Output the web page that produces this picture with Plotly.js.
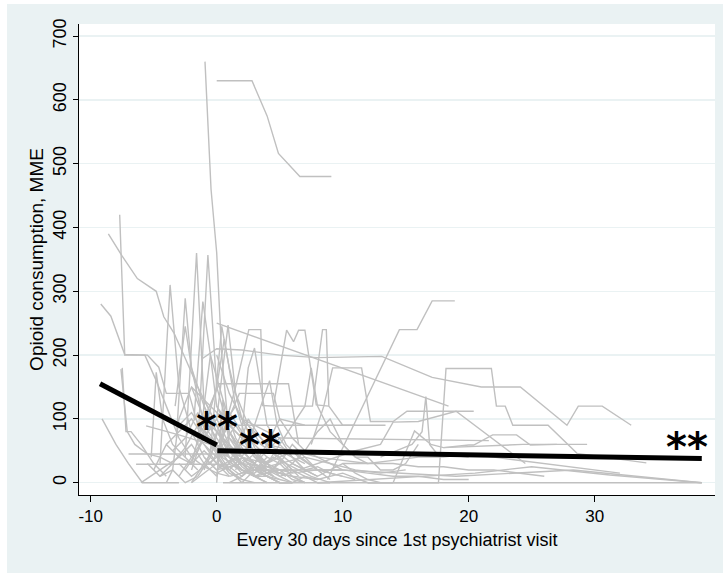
<!DOCTYPE html>
<html>
<head>
<meta charset="utf-8">
<script src="https://cdn.plot.ly/plotly-3.0.1.min.js"></script>
<style>
  html, body { margin: 0; padding: 0; background: #ffffff; }
  #chart { position: absolute; left: 7px; top: 4px; width: 716px; height: 569px; }
</style>
</head>
<body>
<div id="chart"></div>
<script>
// ---- Individual patient trajectories (months since 1st psychiatrist visit, MME) ----
const p01_t = [0, 2.8, 4, 4.9, 6.6, 9.1];
const p01_y = [630, 630, 575, 516, 480, 480];
const p02_t = [-0.93, -0.45, 0, 0.4, 1, 2, 3];
const p02_y = [660, 460, 360, 200, 70, 40, 30];
const p03_t = [-7.7, -7.3, -5.7, -4.8, -4, -3, -2, -1, 0, 1];
const p03_y = [420, 200, 200, 160, 120, 70, 40, 25, 15, 10];
const p04_t = [-8.6, -7.5, -6.3, -4.8, -4.2, -3.4, -2.5, -1.5, -0.5, 0.5, 1.5];
const p04_y = [390, 355, 320, 300, 260, 235, 195, 150, 110, 70, 40];
const p05_t = [-9.2, -8.4, -7.3, -5.5, -4.6, -4, -2.2, -1.5, -0.5, 0.5];
const p05_y = [280, 261, 201, 200, 181, 140, 140, 90, 60, 40];
const p06_t = [-9.1, -8, -7, -5.9, -4, -3];
const p06_y = [100, 60, 30, 0, 0, 0];
const p07_t = [-7.6, -7.1, -6.5, -5.5, -4.5, -3.5];
const p07_y = [178, 80, 60, 45, 40, 30];
const p08_t = [0, 6.6, 18.4];
const p08_y = [250, 203, 120];
const p09_t = [-1.1, 0, 2, 5, 8, 13.1, 17.1, 21, 24.1, 27.8, 28.7, 30.6, 32.9];
const p09_y = [195, 210, 208, 200, 196, 198, 165, 150, 150, 90, 120, 120, 90];
const p10_t = [8.8, 14.5, 15.9, 17.1, 18.9];
const p10_y = [5, 240, 240, 285, 285];
const p11_t = [12, 17.6, 18.2, 21.8, 22.2, 22.9, 23.5, 26.3, 28.6, 34.1];
const p11_y = [0, 0, 179, 179, 120, 120, 90, 90, 46, 31];
const p12_t = [7.5, 8.5, 9.2, 11.5, 12.2, 14, 15.1, 20.4];
const p12_y = [60, 120, 180, 180, 96, 96, 112, 112];
const p13_t = [4.5, 5.55, 6.1, 6.5, 7.0, 7.9, 8.9];
const p13_y = [120, 239, 221, 239, 239, 122, 120];
const p14_t = [6, 7.6, 8.4, 8.7, 8.9, 10, 11];
const p14_y = [120, 120, 240, 240, 120, 90, 90];
const p15_t = [0, 1.5, 2.55, 3.5, 3.65, 4.5, 6];
const p15_y = [40, 150, 240, 240, 121, 120, 120];
const p16_t = [-2.5, -1.6, -1, 0, 1];
const p16_y = [40, 360, 120, 60, 30];
const p17_t = [-1.5, -0.7, 0, 1, 2];
const p17_y = [60, 357, 150, 80, 40];
const p18_t = [-4.5, -3.7, -3, -2, -1, 0];
const p18_y = [30, 310, 150, 80, 40, 20];
const p19_t = [-3.2, -2.5, -2, -1, 0, 1];
const p19_y = [70, 289, 180, 90, 60, 30];
const p20_t = [-1.8, -1.1, -0.5, 0, 1, 2, 3];
const p20_y = [100, 284, 200, 120, 80, 50, 30];
const p21_t = [-2, -1, 0, 0.6, 1.5, 2.5, 3.5];
const p21_y = [20, 80, 150, 225, 120, 60, 30];
const p22_t = [-0.5, 0.4, 1, 2, 3, 4];
const p22_y = [50, 245, 180, 100, 60, 40];
const p23_t = [0, 1, 2, 3, 4, 5, 6, 7];
const p23_y = [200, 140, 100, 80, 60, 50, 40, 30];
const p24_t = [-1, 0.2, 5.7, 6.5];
const p24_y = [100, 155, 155, 60];
const p25_t = [0.5, 1.8, 4.5, 5, 7];
const p25_y = [80, 140, 140, 100, 90];
const p26_t = [0, 1, 13.4];
const p26_y = [60, 90, 90];
const p27_t = [2, 5, 21.6];
const p27_y = [100, 70, 66];
const p28_t = [3, 10, 19, 24, 28.3, 38.5];
const p28_y = [20, 20, 10, 15, 20, 0];
const p29_t = [8, 20.5, 25, 31.2, 38.5];
const p29_y = [0, 15, 25, 12, 0];
const p30_t = [0.5, 38.5];
const p30_y = [0, 0];
const p31_t = [13, 15.5, 16.3, 16.6, 16.9, 17.5, 20];
const p31_y = [40, 60, 80, 135, 60, 45, 40];
const p32_t = [-6.4, 1, 3];
const p32_y = [29, 29, 10];
const p33_t = [-7, -5, 0, 2];
const p33_y = [45, 45, 45, 20];
const p34_t = [-5.6, -3, 0, 2, 4];
const p34_y = [89, 75, 57, 40, 30];
const p35_t = [-5.2, -4.8, -4.3, -3.5, -2.5, -1.5];
const p35_y = [40, 173, 100, 60, 40, 20];
const p36_t = [-7.5, -7.2, -6.8, -6, -5, -4];
const p36_y = [180, 80, 80, 60, 30, 10];
const p37_t = [-4, -3.5, -3, -2, -1, 0, 1, 2];
const p37_y = [0, 20, 100, 150, 130, 90, 40, 20];
const p38_t = [-3.3, -2.5, -2, -1, 0, 1, 2, 3, 4];
const p38_y = [120, 245, 180, 120, 80, 60, 40, 30, 20];
const p39_t = [-2, -1.2, -0.5, 0.5, 1.5, 2.5, 3.5, 4.5];
const p39_y = [30, 90, 200, 130, 70, 40, 20, 10];
const p40_t = [0, 0.9, 1.5, 2.5, 3.5, 5, 6];
const p40_y = [100, 247, 140, 90, 60, 40, 20];
const p41_t = [1, 2, 2.5, 3, 3.5, 4, 5, 6, 7];
const p41_y = [30, 80, 180, 211, 150, 90, 60, 40, 20];
const p42_t = [1.5, 2.5, 3.5, 4.2, 4.8, 5.5, 6.5, 8];
const p42_y = [20, 60, 120, 160, 90, 60, 40, 20];
const p43_t = [2, 3, 4, 5, 6, 7, 8, 9, 10];
const p43_y = [10, 30, 60, 100, 70, 50, 40, 30, 20];
const p44_t = [4, 5, 6, 7, 7.5, 8, 9, 10, 11, 12];
const p44_y = [30, 60, 90, 120, 180, 120, 80, 60, 40, 30];
const p45_t = [6, 7, 8, 9, 10, 11, 12, 13, 14, 15, 16];
const p45_y = [30, 50, 80, 100, 60, 40, 40, 20, 20, 30, 60];
const p46_t = [0, 2, 4, 6, 8, 10, 12, 14, 16, 18, 20];
const p46_y = [20, 30, 25, 15, 20, 20, 15, 10, 10, 5, 5];
const p47_t = [14, 15.7, 17, 18, 20, 20.4, 21.9, 23.8, 24.9, 27];
const p47_y = [0, 81, 60, 55, 59, 59, 75, 75, 59, 60];
const p48_t = [18, 24.3, 29.4];
const p48_y = [55, 60, 60];
const p49_t = [10, 12, 14, 16, 18, 20, 22, 24, 26, 28, 30, 32];
const p49_y = [30, 30, 35, 40, 40, 45, 40, 35, 30, 25, 20, 15];
const p50_t = [-3, -2, -1, 0, 1, 2, 3];
const p50_y = [10, 40, 70, 100, 60, 30, 10];
const p51_t = [-1, 0, 1, 2, 3, 4, 5];
const p51_y = [130, 110, 90, 70, 50, 30, 10];
const p52_t = [-2, -1, 0, 1, 2, 3, 4, 5, 6];
const p52_y = [0, 30, 60, 40, 20, 10, 10, 0, 0];
const p53_t = [0, 1, 2, 3, 4, 5, 6, 7, 8, 9];
const p53_y = [80, 50, 40, 20, 10, 0, 0, 10, 0, 0];
const p54_t = [-1, 0, 1, 2, 3, 4, 5, 6];
const p54_y = [60, 30, 20, 40, 20, 10, 5, 0];
const p55_t = [-4, -3, -2, -1, 0, 1, 2];
const p55_y = [60, 80, 100, 70, 50, 20, 0];
const p56_t = [1, 3, 5, 7, 9, 11, 13, 15];
const p56_y = [10, 20, 30, 40, 30, 20, 15, 20];
const p57_t = [5, 8, 11, 13, 14, 16, 19, 24.5];
const p57_y = [10, 30, 50, 60, 95, 96, 112, 30];
const p58_t = [0, 2, 4, 6, 8, 10];
const p58_y = [40, 60, 30, 50, 20, 10];
const p59_t = [-6, -4.5, -3, -2, -1, 0];
const p59_y = [0, 20, 40, 60, 30, 10];
const p60_t = [-3, -2, -1, 0, 1, 2, 3, 4];
const p60_y = [90, 110, 80, 50, 40, 30, 20, 10];
const p61_t = [-2.5, -1.5, -0.5, 0.5, 1.5, 2.5, 3.5];
const p61_y = [20, 50, 90, 70, 40, 20, 5];
const p62_t = [-1.5, -0.5, 0.5, 1, 2, 3, 4, 5];
const p62_y = [10, 40, 110, 80, 50, 30, 15, 5];
const p63_t = [0, 0.5, 1, 2, 3, 4];
const p63_y = [0, 130, 60, 30, 10, 0];
const p64_t = [-3.5, -2.5, -1.5, -0.5, 0.5, 1.5];
const p64_y = [50, 70, 110, 60, 30, 10];
const p65_t = [0, 1, 2, 3, 4, 5, 6, 7, 8];
const p65_y = [120, 90, 70, 40, 30, 20, 20, 10, 5];
const p66_t = [-0.5, 0.5, 1.5, 2.5, 3.5, 4.5, 5.5];
const p66_y = [30, 60, 90, 60, 40, 20, 10];
const p67_t = [1, 2, 3, 4, 5, 6, 7];
const p67_y = [50, 30, 45, 25, 15, 10, 0];
const p68_t = [-2, -1, 0, 1, 2, 3];
const p68_y = [150, 100, 70, 40, 20, 10];
const p69_t = [0, 1, 2, 3, 4, 5, 6, 7, 8, 9, 10, 11];
const p69_y = [60, 40, 20, 15, 30, 45, 30, 20, 25, 15, 10, 5];
const p70_t = [-4.5, -3.5, -2.5, -1.5, -0.5, 0.5];
const p70_y = [10, 30, 55, 90, 70, 40];
const p71_t = [0.5, 1.5, 2.5, 3.5, 4.5, 5.5, 6.5];
const p71_y = [20, 40, 100, 70, 45, 30, 10];
const p72_t = [-1, 0, 1, 2, 3, 4, 5, 6, 7];
const p72_y = [20, 80, 50, 25, 10, 15, 30, 10, 0];
const p73_t = [2, 3, 4, 5, 6, 7, 8, 9];
const p73_y = [0, 20, 40, 30, 60, 40, 20, 5];
const p74_t = [-2, -1, 0, 1, 2, 3, 4];
const p74_y = [80, 60, 40, 60, 30, 10, 0];
const p75_t = [0, 1, 2, 3, 4, 5, 6];
const p75_y = [30, 110, 80, 40, 20, 10, 0];
const p76_t = [3, 4, 5, 6, 7, 8, 9, 10, 11, 12, 13];
const p76_y = [10, 20, 15, 30, 20, 10, 20, 30, 15, 5, 0];
const p77_t = [-5, -4, -3, -2, -1, 0, 1];
const p77_y = [20, 60, 40, 30, 50, 30, 10];
const p78_t = [0, 0.5, 1.5, 2.5, 3.5, 4.5];
const p78_y = [10, 90, 120, 80, 30, 10];
const p79_t = [4, 6, 8, 10, 12, 14, 16, 18, 20, 22, 24, 26];
const p79_y = [60, 50, 40, 35, 30, 30, 25, 25, 20, 20, 15, 10];
const p80_t = [1, 2, 3, 4, 5, 6, 7, 8];
const p80_y = [70, 50, 30, 50, 70, 40, 20, 10];
const p81_t = [-1, 0, 1, 2, 3, 4, 5];
const p81_y = [40, 20, 35, 15, 25, 10, 0];
const p82_t = [0, 1, 2, 3, 4, 5, 6, 7];
const p82_y = [15, 25, 10, 30, 15, 20, 5, 0];
const p83_t = [-2, -1, 0, 1, 2, 3];
const p83_y = [0, 15, 30, 20, 5, 0];
const p84_t = [0, 1.5, 3, 4.5, 6, 7.5, 9];
const p84_y = [50, 35, 20, 40, 25, 10, 0];
const p85_t = [-3, -2, -1, 0, 1, 2];
const p85_y = [30, 10, 25, 40, 15, 5];
const p86_t = [1, 2, 3, 4, 5, 6];
const p86_y = [0, 10, 25, 10, 35, 15];
const p87_t = [-5.5, -4.5, -3.5, -2.5, -1.5];
const p87_y = [30, 10, 20, 0, 10];
const p88_t = [2, 4, 6, 8, 10, 12, 14];
const p88_y = [35, 20, 10, 5, 15, 0, 0];

const patients = [
  [p01_t, p01_y], [p02_t, p02_y], [p03_t, p03_y], [p04_t, p04_y], [p05_t, p05_y],
  [p06_t, p06_y], [p07_t, p07_y], [p08_t, p08_y], [p09_t, p09_y], [p10_t, p10_y],
  [p11_t, p11_y], [p12_t, p12_y], [p13_t, p13_y], [p14_t, p14_y], [p15_t, p15_y],
  [p16_t, p16_y], [p17_t, p17_y], [p18_t, p18_y], [p19_t, p19_y], [p20_t, p20_y],
  [p21_t, p21_y], [p22_t, p22_y], [p23_t, p23_y], [p24_t, p24_y], [p25_t, p25_y],
  [p26_t, p26_y], [p27_t, p27_y], [p28_t, p28_y], [p29_t, p29_y], [p30_t, p30_y],
  [p31_t, p31_y], [p32_t, p32_y], [p33_t, p33_y], [p34_t, p34_y], [p35_t, p35_y],
  [p36_t, p36_y], [p37_t, p37_y], [p38_t, p38_y], [p39_t, p39_y], [p40_t, p40_y],
  [p41_t, p41_y], [p42_t, p42_y], [p43_t, p43_y], [p44_t, p44_y], [p45_t, p45_y],
  [p46_t, p46_y], [p47_t, p47_y], [p48_t, p48_y], [p49_t, p49_y], [p50_t, p50_y],
  [p51_t, p51_y], [p52_t, p52_y], [p53_t, p53_y], [p54_t, p54_y], [p55_t, p55_y],
  [p56_t, p56_y], [p57_t, p57_y], [p58_t, p58_y], [p59_t, p59_y], [p60_t, p60_y],
  [p61_t, p61_y], [p62_t, p62_y], [p63_t, p63_y], [p64_t, p64_y], [p65_t, p65_y],
  [p66_t, p66_y], [p67_t, p67_y], [p68_t, p68_y], [p69_t, p69_y], [p70_t, p70_y],
  [p71_t, p71_y], [p72_t, p72_y], [p73_t, p73_y], [p74_t, p74_y], [p75_t, p75_y],
  [p76_t, p76_y], [p77_t, p77_y], [p78_t, p78_y], [p79_t, p79_y], [p80_t, p80_y],
  [p81_t, p81_y], [p82_t, p82_y], [p83_t, p83_y], [p84_t, p84_y], [p85_t, p85_y],
  [p86_t, p86_y], [p87_t, p87_y], [p88_t, p88_y]
];

// ---- Segmented regression fit ----
const fitPre_t = [-9.26, 0];
const fitPre_y = [155, 59];
const fitPost_t = [0.05, 38.5];
const fitPost_y = [50, 38];

// ---- Significance markers ----
const sigText = ["**", "**", "**"];
const sigT = [0, 3.4, 37.3];
const sigY = [103, 75, 72];

// ---- Axis ticks ----
const xTicks = [-10, 0, 10, 20, 30];
const yTicks = [0, 100, 200, 300, 400, 500, 600, 700];

const FONT = "Liberation Sans, Arial, sans-serif";

const traces = patients.map(p => ({
  x: p[0], y: p[1], type: "scatter", mode: "lines",
  line: { color: "#c0c0c0", width: 1.4 },
  hoverinfo: "skip", showlegend: false
}));
traces.push({ x: fitPre_t, y: fitPre_y, type: "scatter", mode: "lines",
  line: { color: "#000000", width: 5 }, showlegend: false, hoverinfo: "skip" });
traces.push({ x: fitPost_t, y: fitPost_y, type: "scatter", mode: "lines",
  line: { color: "#000000", width: 5 }, showlegend: false, hoverinfo: "skip" });

const annotations = sigText.map((s, i) => ({
  x: sigT[i], y: sigY[i], xref: "x", yref: "y", text: "<b>" + s + "</b>", showarrow: false,
  font: { family: "DejaVu Sans, sans-serif", size: 40, color: "#000000" },
  xanchor: "center", yanchor: "middle", yshift: -10
}));

const layout = {
  width: 716, height: 569,
  margin: { l: 72, r: 8, t: 20, b: 78, pad: 0 },
  paper_bgcolor: "#eaf2f3",
  plot_bgcolor: "#ffffff",
  showlegend: false,
  font: { family: FONT, color: "#000000" },
  xaxis: {
    range: [-10.93, 39.55],
    tickmode: "array", tickvals: xTicks, ticktext: xTicks.map(String),
    showgrid: false, zeroline: false,
    showline: true, linecolor: "#000000", linewidth: 1,
    ticks: "outside", ticklen: 6, tickcolor: "#000000", tickwidth: 1,
    tickfont: { family: FONT, size: 17, color: "#000000" },
    title: { text: "Every 30 days since 1st psychiatrist visit",
             font: { family: FONT, size: 18, color: "#000000" }, standoff: 7 }
  },
  yaxis: {
    range: [-19.3, 719],
    tickmode: "array", tickvals: yTicks, ticktext: yTicks.map(String),
    showgrid: true, gridcolor: "#eaf2f3", gridwidth: 1.5,
    zeroline: false,
    showline: true, linecolor: "#000000", linewidth: 1,
    ticks: "outside", ticklen: 5, tickcolor: "#000000", tickwidth: 1,
    tickangle: -90,
    tickfont: { family: FONT, size: 18, color: "#000000" },
    title: { text: "Opioid consumption, MME",
             font: { family: FONT, size: 19, color: "#000000" }, standoff: 1 }
  },
  annotations: annotations
};

Plotly.newPlot("chart", traces, layout, { displayModeBar: false, staticPlot: true });
</script>
</body>
</html>
